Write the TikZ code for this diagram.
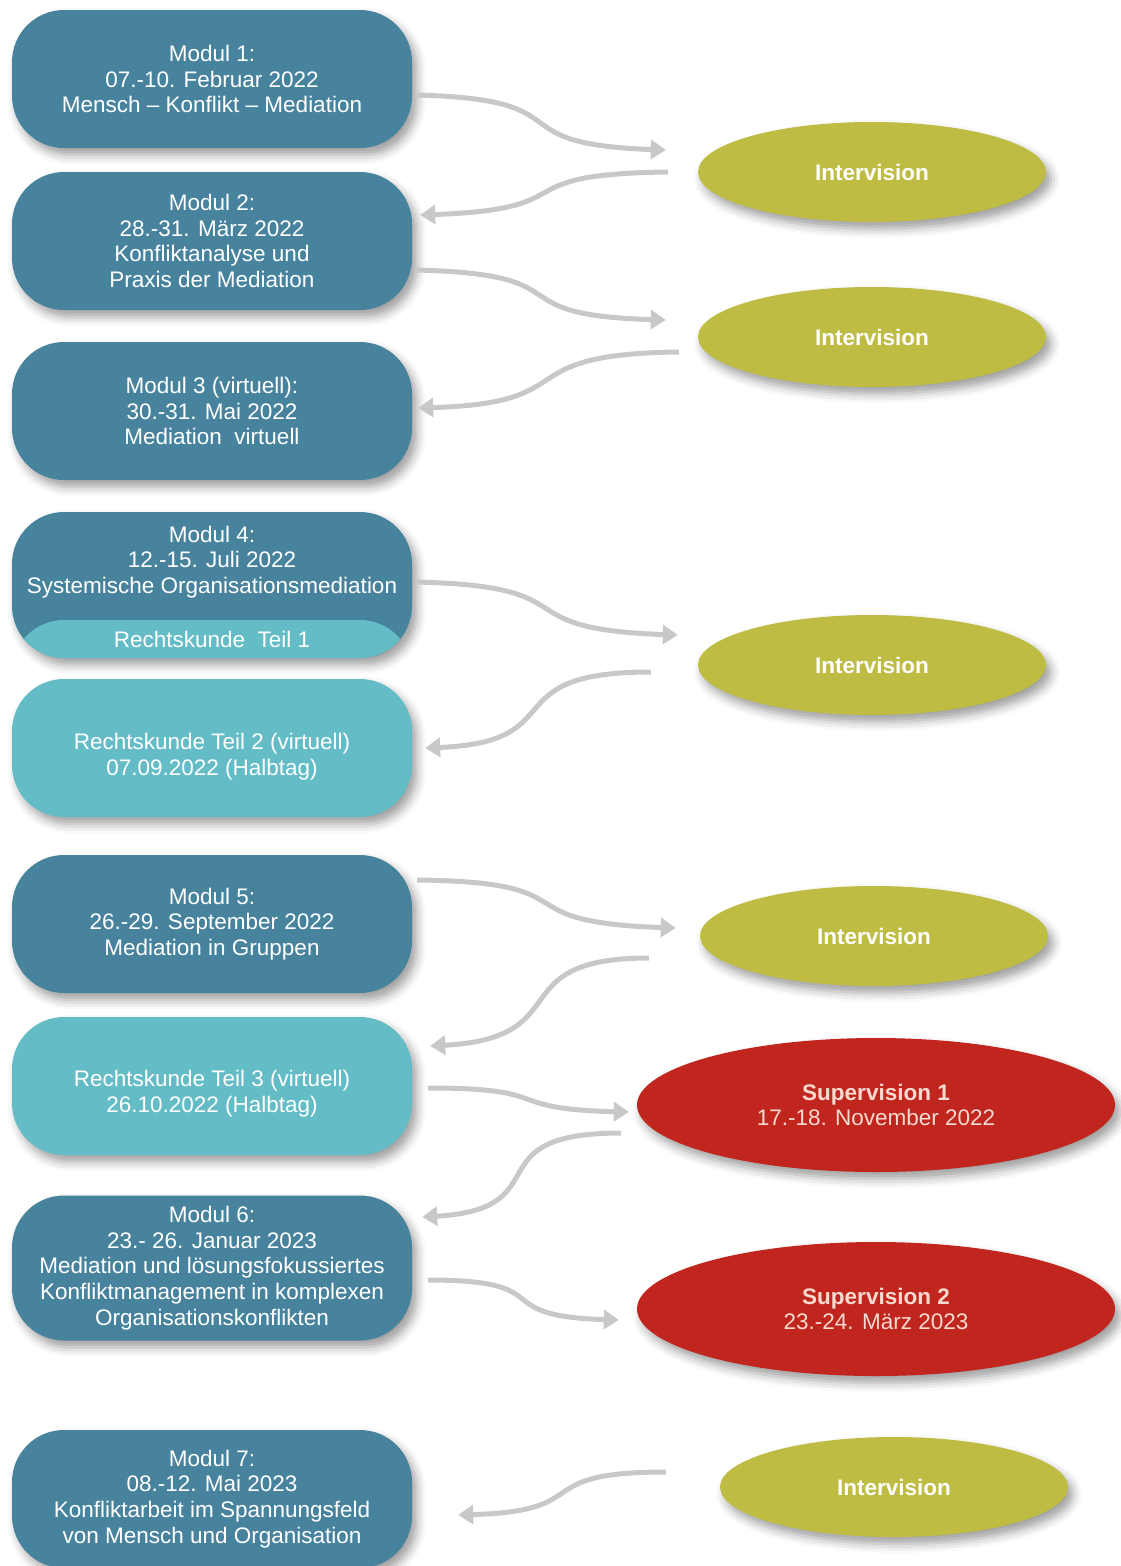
\documentclass[tikz,border=0pt]{standalone}
\usepackage{fontspec}
\setmainfont{Liberation Sans}
\usepackage{tikz}
\usetikzlibrary{shapes.geometric,arrows.meta,shadows.blur,positioning}
\definecolor{modulblau}{RGB}{72,131,158}
\definecolor{rechtsblau}{RGB}{100,188,198}
\definecolor{intervgruen}{RGB}{190,188,66}
\definecolor{superrot}{RGB}{192,38,30}
\definecolor{pfeilgrau}{RGB}{200,200,200}
\definecolor{schriftrosa}{RGB}{248,218,208}
\newcommand{\modulWidth}{400pt}
\newcommand{\modulHeight}{138pt}
\newcommand{\schrift}{\fontsize{22.5}{25.7}\selectfont}

\begin{document}
\begin{tikzpicture}[x=1pt, y=-1pt, font=\schrift,
	schatten/.style={blur shadow={shadow xshift=5pt, shadow yshift=-7pt, shadow blur radius=9pt, shadow opacity=38}},
	modul/.style={rectangle, rounded corners=52pt, minimum width=\modulWidth, minimum height=\modulHeight, inner sep=0pt, fill=modulblau, text=white, align=center, schatten},
	recht/.style={modul, fill=rechtsblau},
	interv/.style={ellipse, minimum width=348pt, minimum height=100pt, inner sep=0pt, fill=intervgruen, text=white, font=\schrift\bfseries, schatten},
	superv/.style={ellipse, minimum width=478pt, minimum height=134pt, inner sep=0pt, fill=superrot, text=schriftrosa, align=center, schatten},
	flow/.style={draw=pfeilgrau, line width=5pt, -{Triangle[length=15pt,width=19pt]}}]
	\useasboundingbox (0,0) rectangle (1121,1566);
	
	%% linke Spalte: Module
	\node[modul] (m1) at (212,79) {Modul 1:\\07.-10. Februar 2022\\Mensch – Konflikt – Mediation};
	\node[modul] (m2) at (212,241) {Modul 2:\\28.-31. März 2022\\Konfliktanalyse und\\Praxis der Mediation};
	\node[modul] (m3) at (212,411) {Modul 3 (virtuell):\\30.-31. Mai 2022\\Mediation\ \ virtuell};
	\node[modul, minimum height=146pt,
		path picture={\fill[rechtsblau] ([yshift=38pt]path picture bounding box.south west) rectangle (path picture bounding box.south east);}] (m4) at (212,585) {};
	\node[text=white, align=center] (m4t) at ([yshift=23pt]m4.center) {Modul 4:\\12.-15. Juli 2022\\Systemische Organisationsmediation};
	\node[text=white] (rk1) at ([yshift=19pt]m4.south) {Rechtskunde\ \ Teil 1};
	\node[recht] (rk2) at (212,748) {};
	\node[text=white, align=center] (rk2t) at ([yshift=-9pt]rk2.center) {Rechtskunde Teil 2 (virtuell)\\07.09.2022 (Halbtag)};
	\node[modul] (m5) at (212,924) {Modul 5:\\26.-29. September 2022\\Mediation in Gruppen};
	\node[recht] (rk3) at (212,1086) {};
	\node[text=white, align=center] (rk3t) at ([yshift=-8pt]rk3.center) {Rechtskunde Teil 3 (virtuell)\\26.10.2022 (Halbtag)};
	\node[modul, minimum height=145pt] (m6) at (212,1268) {Modul 6:\\23.- 26. Januar 2023\\Mediation und lösungsfokussiertes\\Konfliktmanagement in komplexen\\Organisationskonflikten};
	\node[modul] (m7) at (212,1499) {Modul 7:\\08.-12. Mai 2023\\Konfliktarbeit im Spannungsfeld\\von Mensch und Organisation};
	
	%% rechte Spalte: Intervision / Supervision
	\node[interv] (iv1) at (872,172) {Intervision};
	\node[interv] (iv2) at (872,337) {Intervision};
	\node[interv] (iv3) at (872,665) {Intervision};
	\node[interv] (iv4) at (874,936) {Intervision};
	\node[superv] (sv1) at (876,1105) {\textbf{Supervision 1}\\17.-18. November 2022};
	\node[superv] (sv2) at (876,1309) {\textbf{Supervision 2}\\23.-24. März 2023};
	\node[interv] (iv5) at (894,1487) {Intervision};
	
	%% Pfeile
	\draw[flow] ([xshift=3pt,yshift=-16pt]m1.east) .. controls +(175,4) and +(-175,-6) .. ([xshift=-32pt,yshift=22pt]iv1.west);
	\draw[flow] ([xshift=-30pt]iv1.west) .. controls +(-170,2) and +(170,-6) .. ([xshift=8pt,yshift=26pt]m2.east);
	\draw[flow] ([xshift=3pt,yshift=-29pt]m2.east) .. controls +(175,4) and +(-175,-5) .. ([xshift=-32pt,yshift=17pt]iv2.west);
	\draw[flow] ([xshift=-19pt,yshift=-15pt]iv2.west) .. controls +(-175,2) and +(170,-5) .. ([xshift=6pt,yshift=3pt]m3.east);
	%% Modul 4
	\draw[flow] ([xshift=3pt,yshift=3pt]m4.east) .. controls +(180,4) and +(-180,-6) .. ([xshift=-20pt,yshift=30pt]iv3.west);
	\draw[flow] ([xshift=-47pt,yshift=-7pt]iv3.west) .. controls +(-160,0) and +(150,-6) .. ([xshift=13pt]rk2.east);
	%% Modul 5
	\draw[flow] ([xshift=5pt,yshift=44pt]m5.east) .. controls +(180,2) and +(-180,-6) .. ([xshift=-24pt,yshift=8pt]iv4.west);
	\draw[flow] ([xshift=-51pt,yshift=-22pt]iv4.west) .. controls +(-150,0) and +(150,-8) .. ([xshift=18pt,yshift=40pt]rk3.east);
	%% Supervision
	\draw[flow] ([xshift=16pt,yshift=-2pt]rk3.east) .. controls +(130,0) and +(-130,-3) .. ([xshift=-8pt,yshift=-7pt]sv1.west);
	\draw[flow] ([xshift=-16pt,yshift=-28pt]sv1.west) .. controls +(-150,0) and +(140,-8) .. ([xshift=10pt,yshift=51pt]m6.east);
	\draw[flow] ([xshift=16pt,yshift=-12pt]m6.east) .. controls +(135,0) and +(-135,-4) .. ([xshift=-18pt,yshift=-11pt]sv2.west);
	%% Modul 7
	\draw[flow] ([xshift=-54pt,yshift=15pt]iv5.west) .. controls +(-140,0) and +(140,-4) .. ([xshift=46pt,yshift=-16pt]m7.east);
\end{tikzpicture}
\end{document}
